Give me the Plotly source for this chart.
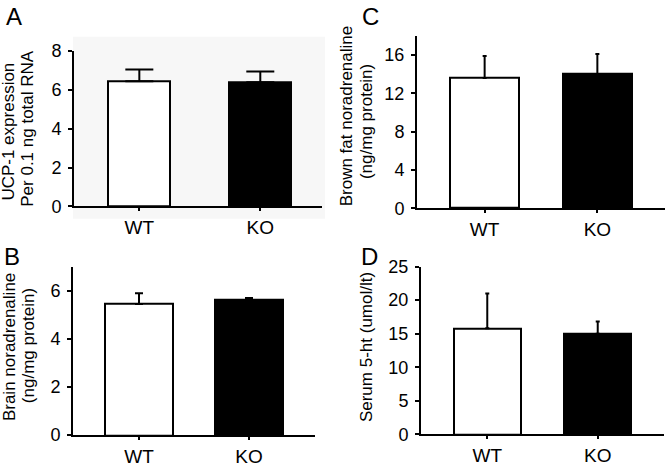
import plotly.graph_objects as go

W, H = 667, 472

categories = ["WT", "KO"]

ucp1_mean = [6.45, 6.4]
ucp1_err_top = [7.05, 6.95]

brown_fat_mean = [13.6, 14.0]
brown_fat_err_top = [15.9, 16.1]

brain_mean = [5.45, 5.62]
brain_err_top = [5.9, 5.7]

serum_mean = [15.8, 15.0]
serum_err_top = [21.0, 16.8]

bar_fill = ["white", "black"]

FONT = "Liberation Sans, Arial, sans-serif"


def px_x(p):
    return p / W


def px_y(p):
    return 1 - p / H


fig = go.Figure()

panels = [
    ("", ucp1_mean, ucp1_err_top, (74, 322), (205, 43), [0, 8], [0, 2, 4, 6, 8], [-0.54, 1.51], 0.51, 14),
    ("2", brown_fat_mean, brown_fat_err_top, (417, 665), (207, 27), [0, 18], [0, 4, 8, 12, 16], [-0.6, 1.6], 0.61, 2),
    ("3", brain_mean, brain_err_top, (73, 315), (444, 268), [0, 7], [0, 2, 4, 6], [-0.6, 1.6], 0.62, 4),
    ("4", serum_mean, serum_err_top, (421, 664), (443, 268), [0, 25], [0, 5, 10, 15, 20, 25], [-0.6, 1.6], 0.61, 2),
]

for key, means, tops, xd, yd, yr, tv, xr, bw, cap in panels:
    ups = [t - m for t, m in zip(tops, means)]
    fig.add_trace(go.Bar(
        x=categories, y=means,
        xaxis="x" + key, yaxis="y" + key,
        width=bw,
        marker=dict(color=bar_fill, line=dict(color="black", width=2)),
        error_y=dict(type="data", symmetric=False, array=ups, arrayminus=[0, 0],
                     color="black", thickness=2, width=cap),
        showlegend=False,
    ))
    xa = dict(
        domain=[px_x(xd[0]), px_x(xd[1])], range=xr, anchor="y" + key,
        showline=True, linecolor="black", linewidth=2,
        ticks="outside", ticklen=3, tickwidth=1.5, tickcolor="black",
        tickfont=dict(family=FONT, size=19, color="black"),
        showgrid=False, zeroline=False, fixedrange=True,
    )
    ya = dict(
        domain=[px_y(yd[0]), px_y(yd[1])], range=yr, anchor="x" + key,
        tickvals=tv,
        showline=True, linecolor="black", linewidth=2,
        ticks="outside", ticklen=4, tickwidth=2, tickcolor="black",
        tickfont=dict(family=FONT, size=18, color="black"),
        ticklabelstandoff=3,
        showgrid=False, zeroline=False, fixedrange=True,
    )
    fig.update_layout(**{"xaxis" + key: xa, "yaxis" + key: ya})

annotations = []

for txt, cx, cy, ys in [("A", 14, 12, 5), ("C", 370, 12, 5), ("B", 12, 257, 0), ("D", 369, 257, 0)]:
    annotations.append(dict(text=txt, x=px_x(cx), y=px_y(cy), xref="paper", yref="paper",
                            xanchor="center", yanchor="middle", showarrow=False, yshift=ys,
                            font=dict(family=FONT, size=24, color="black")))

for txt, cx, cy in [
    ("UCP-1 expression", 9, 127),
    ("Per 0.1 ng total RNA", 28, 124),
    ("Brown fat noradrenaline", 346, 111),
    ("(ng/mg protein)", 366, 117),
    ("Brain noradrenaline", 9, 352),
    ("(ng/mg protein)", 28, 351),
    ("Serum 5-ht (umol/lt)", 366, 352),
]:
    annotations.append(dict(text=txt, x=px_x(cx), y=px_y(cy), xref="paper", yref="paper",
                            xanchor="center", yanchor="middle", textangle=-90, showarrow=False,
                            font=dict(family=FONT, size=17, color="black")))

fig.update_layout(
    width=W, height=H,
    margin=dict(l=0, r=0, t=0, b=0),
    paper_bgcolor="white", plot_bgcolor="rgba(0,0,0,0)",
    bargap=0,
    annotations=annotations,
    shapes=[dict(type="rect", xref="paper", yref="paper",
                 x0=px_x(73), x1=px_x(325), y0=px_y(218), y1=px_y(28),
                 fillcolor="#f7f7f7", line=dict(width=0), layer="below")],
)

fig.write_html("out.html", config={"displayModeBar": False},
               post_script="document.body.style.margin='0';")
